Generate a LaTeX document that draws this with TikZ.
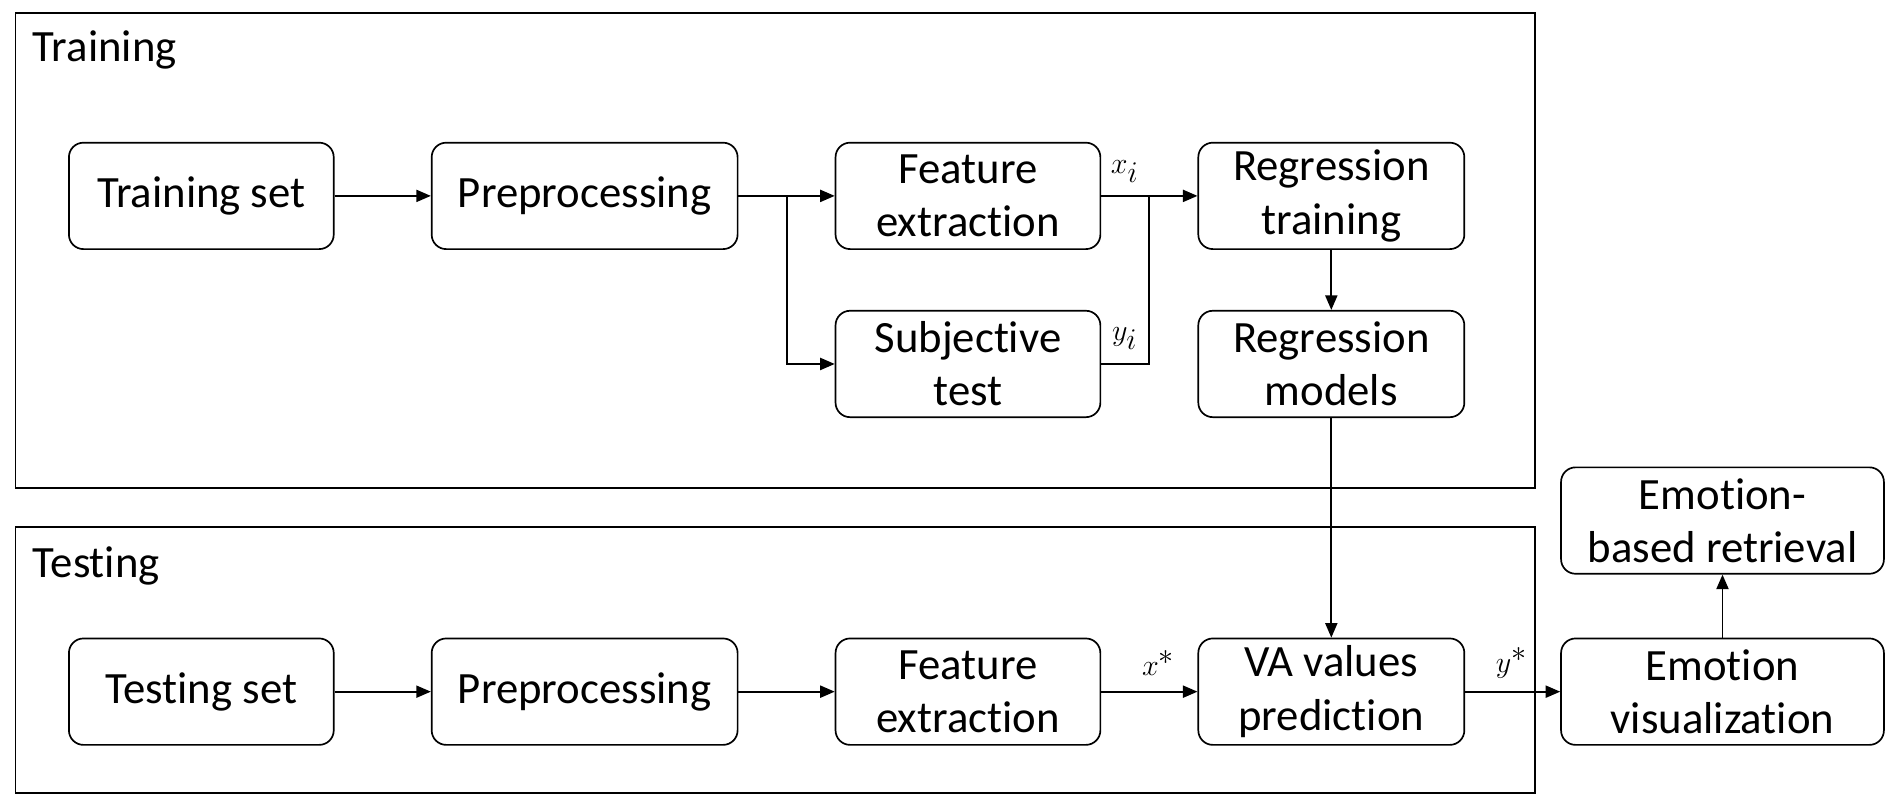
\documentclass[tikz,border=0pt]{standalone}
\usepackage{fontspec}
\setmainfont{Carlito}[RawFeature=-liga]
\usetikzlibrary{arrows.meta}
\begin{document}
\begin{tikzpicture}[x=1pt,y=-1pt,
  box/.style={draw, rounded corners=12pt, line width=1.4pt, align=center, inner sep=0pt,
    minimum height=88pt, font=\fontsize{37}{44}\selectfont},
  frame/.style={draw, line width=1.6pt},
  title/.style={anchor=west, inner sep=0pt, font=\fontsize{37}{44}\selectfont},
  lab/.style={inner sep=0pt, font=\fontsize{42}{48}\selectfont},
  conn/.style={line width=1.4pt},
  arr/.style={conn, -{Triangle[length=12pt,width=10pt]}}]
\useasboundingbox (0,0) rectangle (1568,670);
% frames
\node[frame, inner sep=0pt, minimum width=1257pt, minimum height=393pt, anchor=north west] (trainframe) at (12,10) {};
\node[frame, inner sep=0pt, minimum width=1257pt, minimum height=220pt, anchor=north west] (testframe) at (12,435) {};
\node[title] (traintitle) at (27,41) {Training};
\node[title] (testtitle) at (27,468) {Testing};
% training row
\node[box, minimum width=219pt] (ts) at (166.5,162) {Training set};
\node[box, minimum width=253pt] (pp) at (483.5,162) {Preprocessing};
\node[box, minimum width=219pt] (fe) at (800.5,162) {Feature\\extraction};
\node[box, minimum width=220pt] (rt) at (1101,162) {Regression\\training};
\node[box, minimum width=219pt] (st) at (800.5,301) {Subjective\\test};
\node[box, minimum width=220pt] (rm) at (1101,301) {Regression\\models};
% testing row
\node[box, minimum width=219pt] (tts) at (166.5,572) {Testing set};
\node[box, minimum width=253pt] (tpp) at (483.5,572) {Preprocessing};
\node[box, minimum width=219pt] (tfe) at (800.5,572) {Feature\\extraction};
\node[box, minimum width=220pt] (va) at (1101,572) {VA values\\prediction};
\node[box, minimum width=267pt] (ev) at (1424.5,572) {Emotion\\visualization};
\node[box, minimum width=267pt] (er) at (1424.5,430.5) {Emotion-\\based retrieval};
% coordinates
\coordinate (b1) at (651,162);
\coordinate (m1) at (950,162);
% connectors
\draw[arr] (ts) -- (pp);
\draw[arr] (pp.east) -- (fe.west);
\draw[arr] (b1) |- (st.west);
\draw[arr] (fe.east) -- (rt.west);
\draw[conn] (st.east) -| (m1);
\draw[arr] (rt) -- (rm);
\draw[arr] (rm) -- (va);
\draw[arr] (tts) -- (tpp);
\draw[arr] (tpp) -- (tfe);
\draw[arr] (tfe) -- (va);
\draw[arr] (va) -- (ev);
\draw[arr] (ev) -- (er);
% labels
\node[lab] (lxi) at (930,142) {$x_i$};
\node[lab] (lyi) at (930,280) {$y_i$};
\node[lab] (lxs) at (958,548) {$x^*$};
\node[lab] (lys) at (1250,548) {$y^*$};
\end{tikzpicture}
\end{document}
